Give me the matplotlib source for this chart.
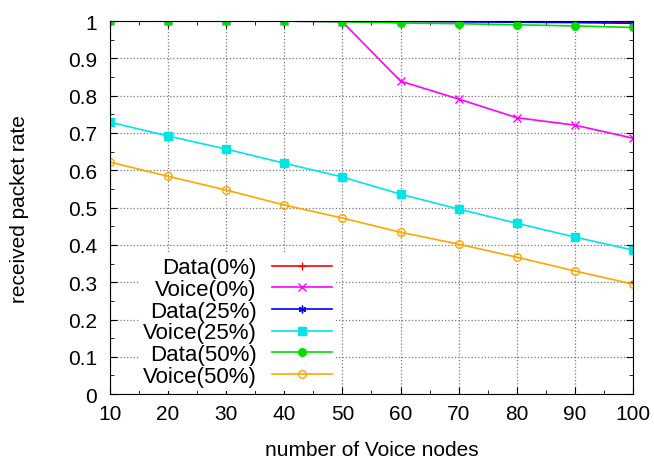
import matplotlib
matplotlib.use('Agg')
import matplotlib.pyplot as plt
from matplotlib.ticker import MultipleLocator

plt.rcParams['font.family'] = ['Liberation Sans', 'DejaVu Sans']

# datos
nodes = [10, 20, 30, 40, 50, 60, 70, 80, 90, 100]
data_0 = [1, 1, 1, 1, 1, 1, 1, 0.999, 0.998, 0.997]
voice_0 = [1, 1, 1, 1, 0.998, 0.839, 0.791, 0.741, 0.721, 0.686]
data_25 = [1, 1, 1, 1, 1, 0.999, 0.998, 0.997, 0.996, 0.994]
voice_25 = [0.729, 0.692, 0.657, 0.619, 0.582, 0.536, 0.496, 0.458, 0.421, 0.386]
data_50 = [1, 1, 1, 1, 0.998, 0.995, 0.993, 0.99, 0.987, 0.983]
voice_50 = [0.622, 0.584, 0.547, 0.507, 0.472, 0.434, 0.402, 0.367, 0.330, 0.295]

labels = ['Data(0%)', 'Voice(0%)', 'Data(25%)', 'Voice(25%)', 'Data(50%)', 'Voice(50%)']
series = [data_0, voice_0, data_25, voice_25, data_50, voice_50]
colors = ['#ff0000', '#ff00ff', '#0000ff', '#00e5e5', '#00dd00', '#ffa500']
markers = ['+', 'x', (6, 2, 0), 's', 'o', 'o']

fig = plt.figure(figsize=(6.54, 4.6), dpi=100)
ax = fig.add_axes([0.168, 0.141, 0.80, 0.811])

for vals, lab, col, mk in zip(series, labels, colors, markers):
    face = 'none' if lab == 'Voice(50%)' else col
    ax.plot(nodes, vals, color=col, marker=mk, markersize=5.5, markerfacecolor=face,
            markeredgecolor=col, linewidth=1.2, label=lab)

ax.set_xlim(10, 100)
ax.set_ylim(0, 1)
ax.xaxis.set_major_locator(MultipleLocator(10))
ax.xaxis.set_minor_locator(MultipleLocator(5))
ax.yaxis.set_minor_locator(MultipleLocator(0.05))
ax.set_yticks([i / 10 for i in range(11)])
ax.set_yticklabels(['0', '0.1', '0.2', '0.3', '0.4', '0.5', '0.6', '0.7', '0.8', '0.9', '1'])
ax.tick_params(which='both', direction='in', top=True, right=True, labelsize=15)
ax.tick_params(axis='y', pad=9)
ax.tick_params(axis='x', pad=7)
ax.tick_params(which='major', length=5)
ax.tick_params(which='minor', length=3)
ax.grid(True, linestyle=':', color='#777777', linewidth=0.9)

ax.set_xlabel('number of Voice nodes', fontsize=15, labelpad=12)
ax.set_ylabel('received packet rate', fontsize=15, labelpad=28)

leg = ax.legend(loc='lower right', bbox_to_anchor=(0.433, 0.008), borderaxespad=0,
                markerfirst=False, fontsize=16, frameon=True, fancybox=False,
                edgecolor='none', framealpha=1, handlelength=2.7, labelspacing=0.03,
                borderpad=0.2, handletextpad=0.68)
for t in leg.get_texts():
    t.set_ha('right')

plt.savefig('out.png', dpi=100)
